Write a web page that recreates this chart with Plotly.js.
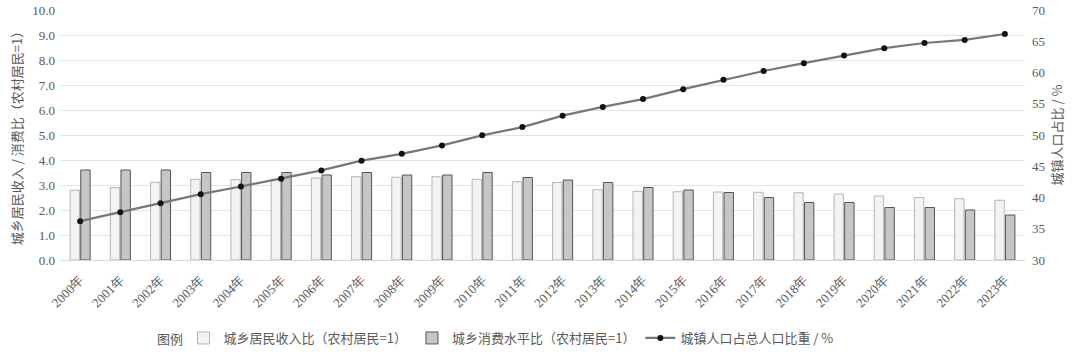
<!DOCTYPE html>
<html>
<head>
<meta charset="utf-8">
<script src="https://cdn.plot.ly/plotly-3.0.1.min.js"></script>
<style>html,body{margin:0;padding:0;background:#fff;}#chart{width:1080px;height:358px;}</style>
</head>
<body>
<div id="chart"></div>
<script>
const years = ["2000年","2001年","2002年","2003年","2004年","2005年","2006年","2007年","2008年","2009年","2010年","2011年","2012年","2013年","2014年","2015年","2016年","2017年","2018年","2019年","2020年","2021年","2022年","2023年"];
const incomeRatio = [2.79,2.90,3.11,3.23,3.21,3.22,3.28,3.33,3.31,3.33,3.23,3.13,3.10,2.81,2.75,2.73,2.72,2.71,2.69,2.64,2.56,2.50,2.45,2.39];
const consumptionRatio = [3.6,3.6,3.6,3.5,3.5,3.5,3.4,3.5,3.4,3.4,3.5,3.3,3.2,3.1,2.9,2.8,2.7,2.5,2.3,2.3,2.1,2.1,2.0,1.8];
const urbanShare = [36.22,37.66,39.09,40.53,41.76,42.99,44.34,45.89,46.99,48.34,49.95,51.27,53.10,54.49,55.75,57.33,58.84,60.24,61.50,62.71,63.89,64.72,65.22,66.16];

const serif = 'Liberation Serif, Times New Roman, serif';
const cjk = 'Noto Sans CJK SC, Noto Sans, sans-serif';
const grey = '#595959';

const traces = [
  {type:'bar', x:years, y:incomeRatio, name:'城乡居民收入比（农村居民=1）',
   marker:{color:'#f2f3f4', line:{color:'#b5b5b5', width:1}}},
  {type:'bar', x:years, y:consumptionRatio, name:'城乡消费水平比（农村居民=1）',
   marker:{color:'#c6c6c6', line:{color:'#555555', width:1}}},
  {type:'scatter', mode:'lines+markers', x:years, y:urbanShare, yaxis:'y2', name:'城镇人口占总人口比重 / %',
   line:{color:'#777777', width:2.2}, marker:{color:'#111', size:6}}
];

const layout = {
  width:1080, height:358,
  margin:{l:60, r:55, t:10, b:98, autoexpand:false},
  paper_bgcolor:'#fff', plot_bgcolor:'#fff',
  barmode:'group', bargap:0.47, bargroupgap:0.12,
  showlegend:true,
  legend:{orientation:'h', x:0.128, xanchor:'left', y:-0.312, yanchor:'middle',
          font:{family:cjk, size:13, color:grey}, itemwidth:30, tracegroupgap:0},
  xaxis:{type:'category', range:[-0.5, 23.5], autorange:false, automargin:false, tickangle:-45,
         tickfont:{family:serif, size:13, color:grey}, ticklabelstandoff:6,
         showgrid:false, showline:true, linecolor:'#d9d9d9', linewidth:1, ticks:''},
  yaxis:{range:[0,10], dtick:1, tickformat:'.1f', automargin:false, tickfont:{family:serif, size:13, color:grey},
         gridcolor:'#e4e4e4', gridwidth:1, zeroline:false, ticks:'', ticklabelstandoff:4,
         title:{text:'城乡居民收入 / 消费比（农村居民=1）', font:{family:cjk, size:13, color:grey}, standoff:6}},
  yaxis2:{range:[30,70], dtick:5, overlaying:'y', side:'right', showgrid:false, zeroline:false, automargin:false,
          tickfont:{family:serif, size:13, color:grey}, ticks:'', ticklabelstandoff:6,
          title:{text:'城镇人口占比 / %', font:{family:cjk, size:13, color:grey}, standoff:8}},
  annotations:[{text:'图例', xref:'paper', yref:'paper', x:0.098, y:-0.312, xanchor:'left', yanchor:'middle',
                showarrow:false, font:{family:cjk, size:13, color:grey}}]
};

Plotly.newPlot('chart', traces, layout, {displayModeBar:false, staticPlot:true});
</script>
</body>
</html>
